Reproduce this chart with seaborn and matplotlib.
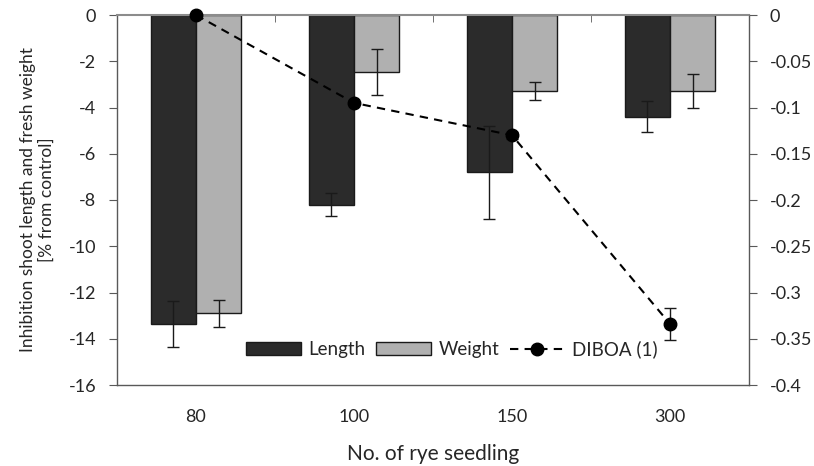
import numpy as np
import pandas as pd
import matplotlib
matplotlib.use('Agg')
import matplotlib.pyplot as plt
import matplotlib.patches as mpatches
from matplotlib.lines import Line2D
from matplotlib.ticker import FuncFormatter
import seaborn as sns

# dados
seedlings = ['80', '100', '150', '300']
length_vals = [-13.35, -8.2, -6.8, -4.4]
length_err = [1.0, 0.5, 2.0, 0.67]
weight_vals = [-12.9, -2.45, -3.28, -3.28]
weight_err = [0.58, 1.0, 0.4, 0.75]
diboa_vals = [0.0, -0.095, -0.13, -0.334]
diboa_err = [0.0, 0.0, 0.004, 0.017]

df = pd.DataFrame({
    'seedling': seedlings * 2,
    'measure': ['Length'] * 4 + ['Weight'] * 4,
    'value': length_vals + weight_vals,
})

sns.set_style('white')
plt.rcParams['font.family'] = ['Lato', 'DejaVu Sans']
plt.rcParams['font.size'] = 13
plt.rcParams['axes.unicode_minus'] = False

fig = plt.figure(figsize=(8.14, 4.66), dpi=100)
ax = fig.add_axes([117 / 814, 1 - 385 / 466, 632 / 814, 370 / 466])

colors = {'Length': '#2b2b2b', 'Weight': '#b0b0b0'}
sns.barplot(data=df, x='seedling', y='value', hue='measure', order=seedlings,
            palette=colors, width=0.57, gap=0, errorbar=None, ax=ax,
            edgecolor='#1a1a1a', linewidth=1, legend=False)

x = np.arange(len(seedlings))
off = 0.57 / 4
ax.errorbar(x - off, length_vals, yerr=length_err, fmt='none', ecolor='#1a1a1a',
            elinewidth=1, capsize=4, capthick=1, zorder=5)
ax.errorbar(x + off, weight_vals, yerr=weight_err, fmt='none', ecolor='#1a1a1a',
            elinewidth=1, capsize=4, capthick=1, zorder=5)

ax.set_ylim(-16, 0)
ax.set_yticks(np.arange(-16, 1, 2))
ax.set_xlim(-0.5, 3.5)
ax.set_xticks(x, seedlings)
ax.set_xticks(np.arange(-0.5, 3.6, 1), minor=True)
ax.tick_params(axis='x', which='major', length=0, pad=17, labelsize=13)
ax.tick_params(axis='x', which='minor', top=True, bottom=False, direction='in',
               length=5, color='#595959')
ax.tick_params(axis='y', left=True, direction='out', length=6, pad=9,
               color='#595959', labelsize=13)
ax.set_xlabel('No. of rye seedling', labelpad=14, fontsize=15)
ax.set_ylabel('Inhibition shoot length and fresh weight\n[% from control]',
              fontsize=12.5, labelpad=10, linespacing=1.2)
for s in ax.spines.values():
    s.set_color('#595959')
    s.set_linewidth(1)
ax.spines['top'].set_color('#8c8c8c')
ax.spines['top'].set_linewidth(1.5)

ax2 = ax.twinx()
ax2.errorbar(x, diboa_vals, yerr=diboa_err, fmt='o--', color='black', ms=9,
             lw=1.5, dashes=(4, 3), ecolor='#1a1a1a', elinewidth=1, capsize=4,
             capthick=1, zorder=6, clip_on=False)
ax2.set_ylim(-0.4, 0)
ax2.set_yticks(np.arange(-0.4, 0.01, 0.05))
ax2.yaxis.set_major_formatter(
    FuncFormatter(lambda v, p: '0' if abs(v) < 1e-9 else '{:g}'.format(round(v, 2))))
ax2.tick_params(axis='y', right=True, direction='out', length=6, pad=9,
                color='#595959', labelsize=13)
for s in ax2.spines.values():
    s.set_visible(False)

handles = [
    mpatches.Patch(facecolor=colors['Length'], edgecolor='#1a1a1a', label='Length'),
    mpatches.Patch(facecolor=colors['Weight'], edgecolor='#1a1a1a', label='Weight'),
    Line2D([], [], color='black', ls='--', dashes=(4, 3), marker='o', ms=9, lw=1.5,
           label='DIBOA (1)'),
]
ax2.legend(handles=handles, loc='center', bbox_to_anchor=(0.53, 0.097), ncol=3,
           frameon=False, handlelength=2.9, handleheight=0.65, columnspacing=0.6,
           handletextpad=0.4, fontsize=13.5)

fig.savefig('out.png', dpi=100)
